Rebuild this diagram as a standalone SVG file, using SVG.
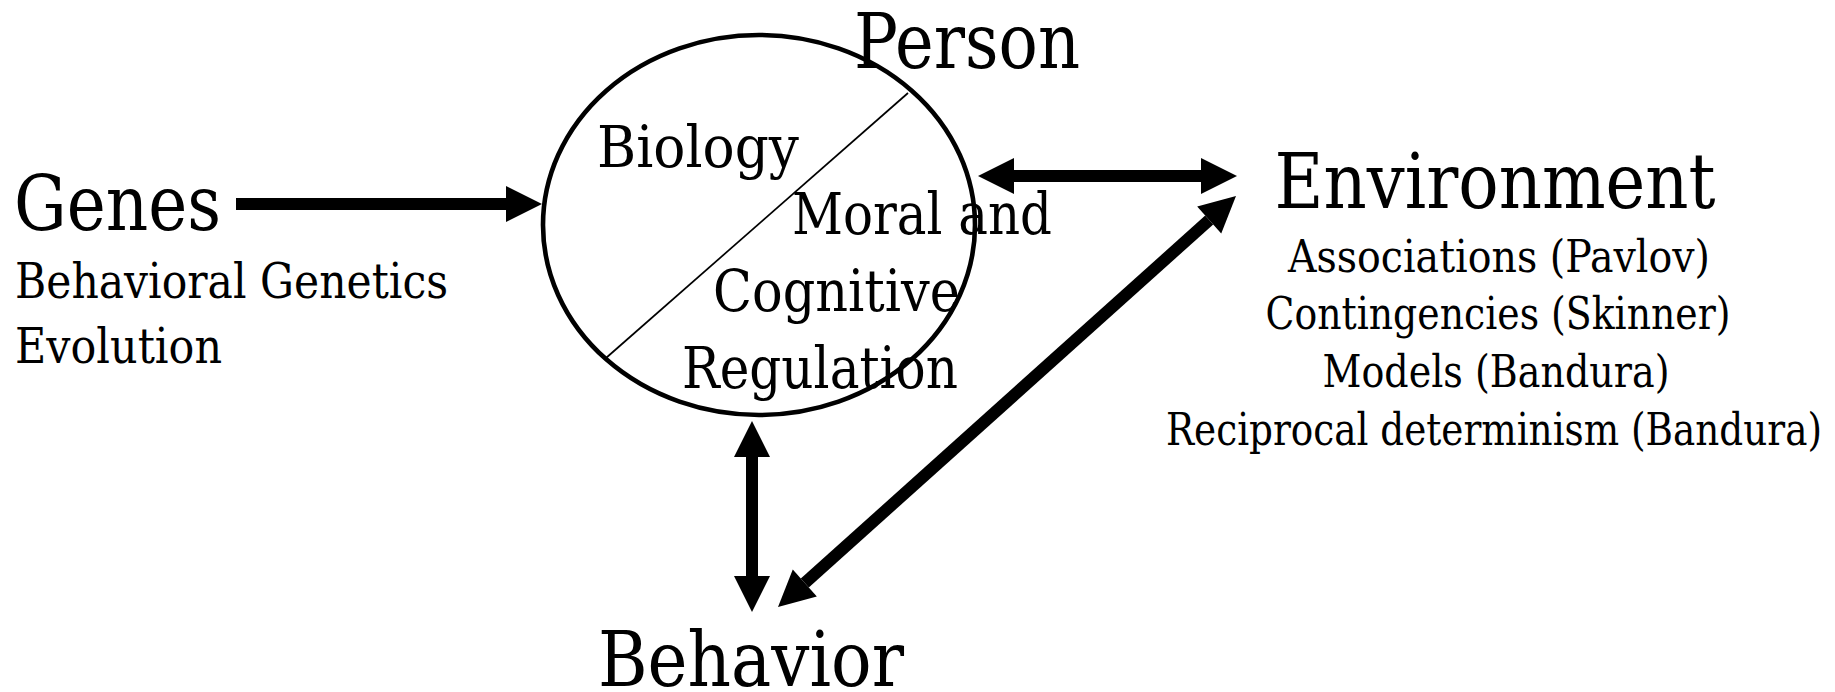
<svg xmlns="http://www.w3.org/2000/svg" width="1835" height="692" viewBox="0 0 1835 692">
  <style>
    .lbl { font-family: "DejaVu Serif", "Liberation Serif", serif; fill: #000; }
    .big { font-size: 77px; }
    .inner { font-size: 58px; }
    .sub { font-size: 48.5px; }
    .env { font-size: 44px; text-anchor: middle; }
    .arrow { stroke: #000; stroke-width: 12; fill: none; }
  </style>
  <defs>
    <!-- solid triangular head; its base sits on the line end -->
    <marker id="head" markerUnits="userSpaceOnUse" markerWidth="37" markerHeight="37"
            refX="0" refY="18" orient="auto-start-reverse" overflow="visible">
      <path d="M0,0 L36,18 L0,36 Z" fill="#000"/>
    </marker>
  </defs>

  <rect width="1835" height="692" fill="#fff"/>

  <!-- Person: ellipse split into biology / regulation halves -->
  <g id="person">
    <ellipse cx="759" cy="225" rx="216" ry="190" fill="none" stroke="#000" stroke-width="4.6"/>
    <line x1="908" y1="93" x2="606" y2="358" stroke="#000" stroke-width="1.7"/>
    <text class="lbl big" x="854" y="68" textLength="226" lengthAdjust="spacingAndGlyphs">Person</text>
    <text class="lbl inner" x="597" y="167" textLength="202" lengthAdjust="spacingAndGlyphs">Biology</text>
    <text class="lbl inner" x="792" y="234" textLength="260" lengthAdjust="spacingAndGlyphs">Moral and</text>
    <text class="lbl inner" x="713" y="311" textLength="247" lengthAdjust="spacingAndGlyphs">Cognitive</text>
    <text class="lbl inner" x="682" y="388" textLength="276" lengthAdjust="spacingAndGlyphs">Regulation</text>
  </g>

  <g id="genes">
    <text class="lbl big" x="14" y="230" textLength="207" lengthAdjust="spacingAndGlyphs">Genes</text>
    <text class="lbl sub" x="15" y="298" textLength="433" lengthAdjust="spacingAndGlyphs">Behavioral Genetics</text>
    <text class="lbl sub" x="15" y="363" textLength="207" lengthAdjust="spacingAndGlyphs">Evolution</text>
  </g>

  <g id="environment">
    <text class="lbl big" x="1495" y="208" text-anchor="middle" textLength="441" lengthAdjust="spacingAndGlyphs">Environment</text>
    <text class="lbl env" x="1499" y="272" textLength="422" lengthAdjust="spacingAndGlyphs">Associations (Pavlov)</text>
    <text class="lbl env" x="1498" y="329" textLength="465" lengthAdjust="spacingAndGlyphs">Contingencies (Skinner)</text>
    <text class="lbl env" x="1496" y="387" textLength="347" lengthAdjust="spacingAndGlyphs">Models (Bandura)</text>
    <text class="lbl env" x="1494" y="445" textLength="656" lengthAdjust="spacingAndGlyphs">Reciprocal determinism (Bandura)</text>
  </g>

  <g id="behavior">
    <text class="lbl big" x="751" y="686" text-anchor="middle" textLength="306" lengthAdjust="spacingAndGlyphs">Behavior</text>
  </g>

  <g id="connectors">
    <!-- genes to person -->
    <line class="arrow" x1="236" y1="204" x2="506" y2="204" marker-end="url(#head)"/>
    <!-- person and environment -->
    <line class="arrow" x1="1014" y1="176" x2="1201" y2="176" marker-start="url(#head)" marker-end="url(#head)"/>
    <!-- person and behavior -->
    <line class="arrow" x1="752" y1="457" x2="752" y2="576" marker-start="url(#head)" marker-end="url(#head)"/>
    <!-- behavior and environment -->
    <line class="arrow" x1="804.8" y1="583" x2="1209.2" y2="220" stroke-width="13" marker-start="url(#head)" marker-end="url(#head)"/>
  </g>
</svg>
